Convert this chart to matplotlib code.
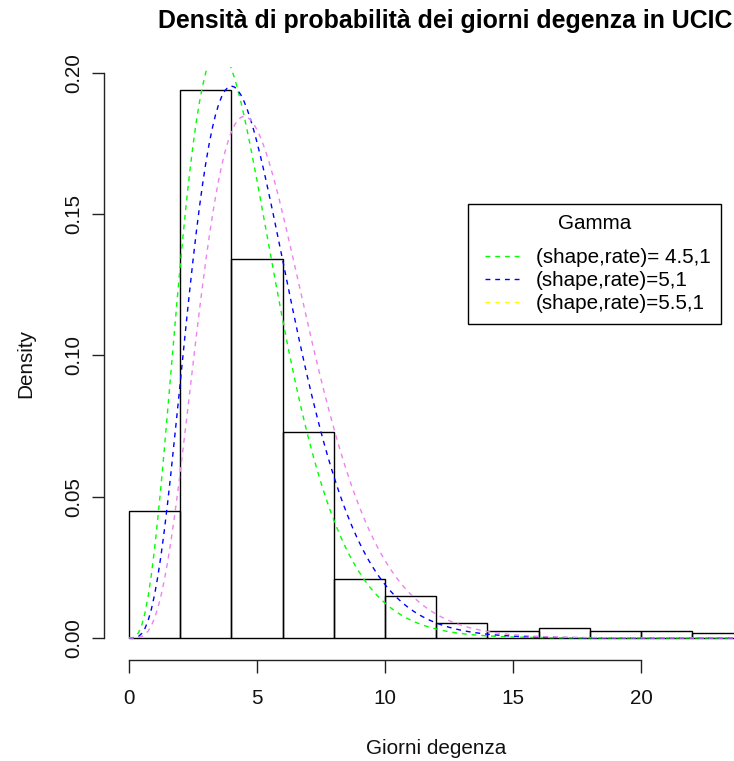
import math
import numpy as np
import matplotlib
matplotlib.use("Agg")
import matplotlib.pyplot as plt
from matplotlib.lines import Line2D
from matplotlib.legend_handler import HandlerLine2D

plt.rcParams['font.family'] = ['Liberation Sans', 'DejaVu Sans']

# ---- data ----
bin_edges = [0, 2, 4, 6, 8, 10, 12, 14, 16, 18, 20, 22, 24]
densities = [0.0451, 0.1941, 0.1343, 0.0728, 0.0210, 0.0148, 0.0052,
             0.0026, 0.0037, 0.0026, 0.0026, 0.0019]
shapes = [4.5, 5.0, 5.5]
rates = [1.0, 1.0, 1.0]
curve_colors = ['#00FF00', '#0000FF', '#EE82EE']
legend_colors = ['#00FF00', '#0000FF', '#FFFF00']
legend_labels = ['(shape,rate)= 4.5,1', '(shape,rate)=5,1', '(shape,rate)=5.5,1']
x_ticks = [0, 5, 10, 15, 20]
y_ticks = [0.00, 0.05, 0.10, 0.15, 0.20]
y_tick_labels = ['0.00', '0.05', '0.10', '0.15', '0.20']
title = 'Densità di probabilità dei giorni degenza in UCIC'
xlabel = 'Giorni degenza'
ylabel = 'Density'
legend_title = 'Gamma'

W, H = 734, 761
fig = plt.figure(figsize=(W / 100, H / 100), dpi=100)
L, R, T, B = 104.4, 768.0, 67.0, 660.0
ax = fig.add_axes([L / W, 1 - B / H, (R - L) / W, (B - T) / H])
ax.set_xlim(-0.96, 24.96)
ax.set_ylim(-0.0078, 0.2021)

# histogram bars
edges = np.array(bin_edges, dtype=float)
ax.bar(edges[:-1], densities, width=np.diff(edges), align='edge',
       facecolor='none', edgecolor='black', linewidth=1.0, zorder=2)

# gamma density curves
xs = np.linspace(0, 25, 201)
for k, r, c in zip(shapes, rates, curve_colors):
    pdf = (r ** k) * xs ** (k - 1) * np.exp(-r * xs) / math.gamma(k)
    ax.plot(xs, pdf, color=c, linewidth=1.0, dashes=(3.5, 3.5), zorder=3)

# axes styling (R-like)
for s in ['top', 'right']:
    ax.spines[s].set_visible(False)
ax.spines['left'].set_bounds(0, 0.2)
ax.spines['bottom'].set_bounds(0, 20)
for s in ['left', 'bottom']:
    ax.spines[s].set_linewidth(1.0)
    ax.spines[s].set_color('#222222')
ax.set_xticks(x_ticks)
ax.set_xticklabels([str(t) for t in x_ticks])
ax.set_yticks(y_ticks)
ax.set_yticklabels(y_tick_labels)
ax.tick_params(axis='both', direction='out', length=9, width=1.0,
               color='#222222', labelsize=14.9, labelcolor='#111111')
ax.tick_params(axis='x', pad=12)
ax.tick_params(axis='y', pad=9)
for lab in ax.get_yticklabels():
    lab.set_rotation(90)
    lab.set_rotation_mode('anchor')
    lab.set_ha('center')
    lab.set_va('baseline')

fig.text(445 / W, 1 - 28 / H, title, ha='center', va='baseline',
         fontsize=17.9, fontweight='bold')
fig.text((L + R) / 2 / W, 1 - 754 / H, xlabel, ha='center', va='baseline',
         fontsize=14.9, color='#111111')
fig.text(31 / W, 1 - 363.5 / H, ylabel, ha='center', va='baseline',
         rotation=90, rotation_mode='anchor', fontsize=14.9, color='#111111')

# legend
handles = [Line2D([0], [0], color=c, linewidth=1.0, dashes=(3.5, 3.5))
           for c in legend_colors]
leg = ax.legend(handles, legend_labels, title=legend_title,
                loc='upper left', bbox_to_anchor=(468 / W, 1 - 204 / H),
                bbox_transform=fig.transFigure, borderaxespad=0,
                fontsize=14.9, title_fontsize=14.9, frameon=True,
                fancybox=False, framealpha=1, edgecolor='black',
                borderpad=0.5, labelspacing=0.19, handlelength=2.39,
                handletextpad=0.39, numpoints=2,
                handler_map={Line2D: HandlerLine2D(marker_pad=0.3, numpoints=2)})
leg.get_frame().set_linewidth(1.0)
leg._legend_box.sep = 10.8

fig.savefig('out.png', dpi=100)
